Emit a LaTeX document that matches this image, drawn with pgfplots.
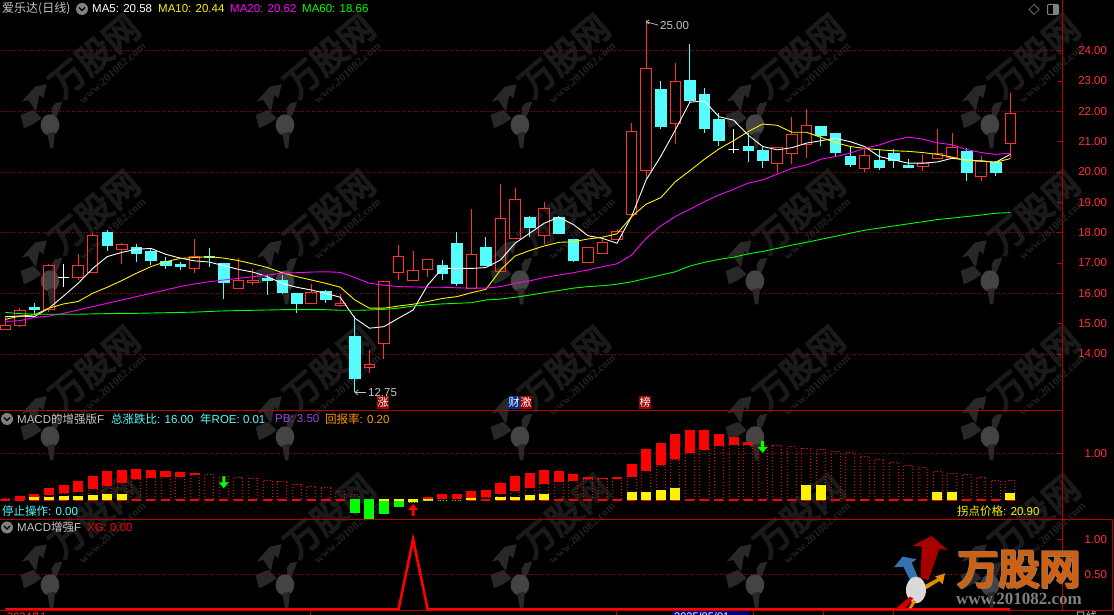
\documentclass[border=0pt]{standalone}
\usepackage{fontspec}
\usepackage{pgfplots}
\usepackage{pgfplotstable}
\pgfplotsset{compat=1.18}
\setmainfont{Liberation Sans}
\newfontfamily\cjk{Noto Sans CJK SC}
\newfontfamily\cjkb[FakeBold=5]{Noto Sans CJK SC}
\newfontfamily\wmserif{Liberation Serif}[BoldFont={Liberation Serif Bold}]
\definecolor{upred}{HTML}{FF3232}
\definecolor{dncy}{HTML}{54FCFC}
\definecolor{gridred}{HTML}{A80000}
\definecolor{axred}{HTML}{B80000}
\definecolor{lblred}{HTML}{FF3030}
\definecolor{magm}{HTML}{FF00FF}
\definecolor{grn}{HTML}{00FF00}
\definecolor{ttl}{HTML}{C4C4C4}
\definecolor{pbc}{HTML}{A040E0}
\definecolor{wmA}{HTML}{1A1A1A}
\definecolor{wmB}{HTML}{222222}
\definecolor{wmC}{HTML}{282828}
\definecolor{wmD}{HTML}{444444}
% candles: i low bottom top high
\pgfplotstableread{
i low bot top high
0 14.81 14.81 14.95 15.23
1 14.90 14.95 15.43 15.51
3 15.40 15.47 16.91 16.96
5 16.44 16.53 16.91 17.29
6 16.68 16.68 17.91 18.00
8 16.98 17.45 17.62 17.66
13 16.68 16.81 17.22 17.79
16 16.15 16.15 16.43 17.15
17 16.27 16.35 16.43 16.79
21 15.66 15.66 16.03 16.31
23 15.56 15.60 15.67 15.98
25 13.38 13.56 13.66 14.13
26 13.85 14.35 16.40 16.40
27 16.45 16.69 17.22 17.58
28 16.43 16.43 16.76 17.40
29 16.55 16.79 17.12 17.12
32 16.15 16.15 17.29 18.77
34 16.73 16.73 18.47 19.60
35 17.81 17.81 19.10 19.47
37 17.63 17.91 18.80 19.01
40 17.02 17.02 17.52 17.52
41 17.32 17.32 17.68 17.78
42 17.78 17.78 18.04 18.11
43 18.51 18.60 21.34 21.60
44 19.81 20.04 23.42 25.00
46 20.93 21.60 22.99 23.59
53 19.96 20.27 20.81 20.81
54 20.26 20.60 21.24 21.82
55 20.47 20.90 21.54 22.08
59 20.01 20.11 20.55 20.78
63 20.03 20.17 20.29 20.59
64 20.43 20.43 20.62 21.42
65 20.48 20.48 20.81 21.29
67 19.71 19.86 20.35 20.53
69 20.45 20.95 21.93 22.60
}\upc
\pgfplotstableread{
i low bot top high
2 15.29 15.48 15.55 15.67
7 17.41 17.57 18.01 18.09
9 17.03 17.31 17.53 17.63
10 16.93 17.08 17.40 17.48
11 16.80 16.94 17.05 17.19
12 16.78 16.88 16.97 17.03
14 16.88 17.20 17.23 17.48
15 15.82 16.35 16.99 16.99
18 15.96 16.42 16.51 16.59
19 16.00 16.02 16.44 16.60
20 15.36 15.66 16.00 16.00
22 15.69 15.79 16.07 16.11
24 12.75 13.19 14.59 15.25
30 16.44 16.65 16.92 17.10
31 16.25 16.32 17.66 18.01
33 16.91 16.93 17.53 17.86
36 17.87 18.17 18.51 18.55
38 17.97 17.97 18.51 18.55
39 17.04 17.08 17.79 17.79
45 21.42 21.52 22.74 23.00
47 22.34 22.35 23.03 24.22
48 21.30 21.45 22.57 22.77
49 20.87 21.03 21.75 21.93
51 20.33 20.73 20.86 21.27
52 20.14 20.40 20.73 20.84
56 20.84 21.22 21.52 21.52
57 20.54 20.66 21.29 21.29
58 20.16 20.27 20.53 20.86
60 20.07 20.14 20.38 20.75
61 20.14 20.40 20.62 20.76
62 20.14 20.17 20.21 20.42
66 19.71 19.98 20.68 20.78
68 19.88 19.98 20.33 20.37
}\dnc
\pgfplotstableread{
i low bot top high
4 16.22 16.53 16.53 16.96
50 20.64 20.74 20.74 21.41
}\dojic
% moving averages: i ma5 ma10 ma20 ma60
\pgfplotstableread{
i a b c d
0 15.23 15.14 15.07 15.37
1 15.25 15.25 15.10 15.33
2 15.23 15.29 15.20 15.31
3 15.51 15.51 15.25 15.31
4 15.91 15.65 15.34 15.31
5 16.33 15.73 15.45 15.31
6 16.82 16.00 15.56 15.32
7 17.21 16.20 15.67 15.33
8 17.35 16.42 15.78 15.34
9 17.45 16.66 15.89 15.34
10 17.48 16.88 16.00 15.35
11 17.29 17.04 16.11 15.36
12 17.16 17.15 16.22 15.37
13 17.07 17.18 16.31 15.38
14 17.03 17.21 16.38 15.40
15 16.91 17.16 16.44 15.42
16 16.79 17.08 16.49 15.43
17 16.70 16.97 16.55 15.44
18 16.55 16.85 16.60 15.45
19 16.33 16.68 16.66 15.46
20 16.20 16.55 16.68 15.46
21 16.11 16.44 16.70 15.46
22 16.00 16.33 16.71 15.46
23 15.87 16.20 16.69 15.44
24 15.18 15.78 16.52 15.44
25 14.85 15.51 16.33 15.45
26 14.90 15.51 16.27 15.47
27 15.18 15.58 16.22 15.51
28 15.45 15.64 16.21 15.58
29 16.27 15.73 16.20 15.62
30 16.82 15.83 16.20 15.65
31 16.82 15.89 16.18 15.67
32 16.82 16.02 16.17 15.69
33 16.85 16.13 16.17 15.78
34 17.10 16.77 16.22 15.81
35 17.65 17.23 16.33 15.87
36 17.98 17.41 16.41 15.94
37 18.31 17.56 16.52 16.02
38 18.51 17.68 16.60 16.09
39 18.27 17.70 16.68 16.17
40 17.90 17.79 16.77 16.22
41 17.81 17.85 16.88 16.25
42 17.65 17.96 16.97 16.30
43 18.53 18.53 17.26 16.38
44 19.74 18.94 17.81 16.49
45 20.51 19.15 18.22 16.60
46 21.38 19.68 18.53 16.71
47 22.30 20.04 18.77 16.90
48 22.34 20.42 19.02 17.02
49 21.82 20.76 19.24 17.12
50 21.71 21.03 19.43 17.19
51 21.22 21.33 19.63 17.30
52 20.84 21.58 19.74 17.38
53 20.73 21.54 19.93 17.48
54 20.80 21.31 20.12 17.59
55 20.95 21.31 20.23 17.68
56 21.03 21.14 20.42 17.78
57 21.11 20.97 20.51 17.88
58 21.00 20.84 20.62 17.98
59 20.84 20.78 20.78 18.08
60 20.51 20.73 20.89 18.15
61 20.40 20.70 21.05 18.22
62 20.29 20.68 21.15 18.29
63 20.29 20.64 21.08 18.36
64 20.33 20.58 20.96 18.43
65 20.45 20.49 20.90 18.48
66 20.40 20.37 20.74 18.53
67 20.36 20.37 20.64 18.58
68 20.32 20.32 20.58 18.64
69 20.58 20.44 20.62 18.66
}\matab
% MACD panel
\pgfplotstableread{
i a
0 .03
1 .04
2 .07
3 .11
4 .15
5 .19
6 .25
7 .32
8 .38
9 .45
10 .49
11 .51
12 .51
13 .54
14 .54
15 .51
16 .49
17 .47
18 .43
19 .39
20 .34
21 .30
22 .26
23 .19
24 .11
32 .06
33 .06
34 .14
35 .21
36 .27
37 .36
38 .40
39 .42
40 .45
41 .46
42 .47
43 .51
44 .63
45 .75
46 .88
47 1.01
48 1.09
49 1.16
50 1.20
51 1.20
52 1.18
53 1.16
54 1.14
55 1.11
56 1.09
57 1.05
58 1.01
59 .94
60 .88
61 .81
62 .75
63 .69
64 .62
65 .58
66 .54
67 .49
68 .43
69 .41
}\outl
\pgfplotstableread{
i lo hi
1 .04 .08
2 .07 .11
3 .11 .24
4 .15 .30
5 .19 .39
6 .25 .51
7 .32 .60
8 .38 .64
9 .45 .66
10 .49 .64
11 .51 .60
12 .51 .58
13 .54 .56
29 .02 .06
30 .03 .11
31 .03 .11
32 .06 .19
33 .08 .21
34 .14 .36
35 .21 .51
36 .27 .56
37 .36 .64
38 .40 .62
39 .42 .54
40 .45 .49
41 .46 .47
42 .47 .49
43 .51 .75
44 .63 1.09
45 .75 1.22
46 .88 1.41
47 1.01 1.50
48 1.09 1.48
49 1.16 1.41
50 1.20 1.33
51 1.20 1.24
}\redb
\pgfplotstableread{
i lo hi
2 0 .05
3 0 .05
4 0 .07
5 0 .07
6 0 .09
7 0 .11
8 0 .11
26 -.01 .02
27 -.01 .02
28 -.03 .02
29 -.01 .02
32 0 .04
34 0 .06
35 0 .06
36 0 .09
37 0 .11
43 0 .15
44 0 .17
45 0 .21
46 0 .24
55 0 .30
56 0 .30
64 0 .17
65 0 .17
69 0 .13
}\yelb
\pgfplotstableread{
i lo hi
24 -.26 0
25 -.39 0
26 -.28 -.04
27 -.13 -.04
}\grnb
\newcommand{\candles}[2]{%
 \pgfplotstablegetrowsof{#1}\pgfmathtruncatemacro\lastrow{\pgfplotsretval-1}%
 \pgfplotsinvokeforeach{0,...,\lastrow}{%
  \pgfplotstablegetelem{##1}{i}\of{#1}\let\vi\pgfplotsretval
  \pgfplotstablegetelem{##1}{low}\of{#1}\let\vlow\pgfplotsretval
  \pgfplotstablegetelem{##1}{bot}\of{#1}\let\vbot\pgfplotsretval
  \pgfplotstablegetelem{##1}{top}\of{#1}\let\vtop\pgfplotsretval
  \pgfplotstablegetelem{##1}{high}\of{#1}\let\vhigh\pgfplotsretval
  \pgfmathsetmacro\xl{\vi-0.36}\pgfmathsetmacro\xr{\vi+0.36}%
  \edef\tmp{\noexpand\addplot[#2 wick] coordinates {(\vi,\vlow)(\vi,\vbot)};
   \noexpand\addplot[#2 wick] coordinates {(\vi,\vtop)(\vi,\vhigh)};
   \noexpand\addplot[#2 body] coordinates {(\xl,\vbot)(\xr,\vbot)(\xr,\vtop)(\xl,\vtop)} --cycle;}\tmp
 }}
\newcommand{\blocks}[2]{%
 \pgfplotstablegetrowsof{#1}\pgfmathtruncatemacro\lastrow{\pgfplotsretval-1}%
 \pgfplotsinvokeforeach{0,...,\lastrow}{%
  \pgfplotstablegetelem{##1}{i}\of{#1}\let\vi\pgfplotsretval
  \pgfplotstablegetelem{##1}{lo}\of{#1}\let\vlo\pgfplotsretval
  \pgfplotstablegetelem{##1}{hi}\of{#1}\let\vhi\pgfplotsretval
  \pgfmathsetmacro\xl{\vi-0.31}\pgfmathsetmacro\xr{\vi+0.31}%
  \edef\tmp{\noexpand\addplot[#2] coordinates {(\xl,\vlo)(\xr,\vlo)(\xr,\vhi)(\xl,\vhi)} --cycle;}\tmp
 }}
\newcommand{\outlines}[1]{%
 \pgfplotstablegetrowsof{#1}\pgfmathtruncatemacro\lastrow{\pgfplotsretval-1}%
 \pgfplotsinvokeforeach{0,...,\lastrow}{%
  \pgfplotstablegetelem{##1}{i}\of{#1}\let\vi\pgfplotsretval
  \pgfplotstablegetelem{##1}{a}\of{#1}\let\va\pgfplotsretval
  \pgfmathsetmacro\xl{\vi-0.31}\pgfmathsetmacro\xr{\vi+0.31}%
  \edef\tmp{\noexpand\addplot[dotbar] coordinates {(\xl,0)(\xl,\va)(\xr,\va)(\xr,0)};
   \noexpand\addplot[basebar] coordinates {(\xl,0)(\xr,0)};}\tmp
 }}
\def\arrowpts#1{%
 \pgfpathmoveto{\pgfqpoint{0pt}{0pt}}%
 \pgfpathlineto{\pgfqpoint{-5pt}{#1 6pt}}%
 \pgfpathlineto{\pgfqpoint{-1.5pt}{#1 6pt}}%
 \pgfpathlineto{\pgfqpoint{-1.5pt}{#1 12pt}}%
 \pgfpathlineto{\pgfqpoint{1.5pt}{#1 12pt}}%
 \pgfpathlineto{\pgfqpoint{1.5pt}{#1 6pt}}%
 \pgfpathlineto{\pgfqpoint{5pt}{#1 6pt}}%
 \pgfpathclose\pgfusepathqfill}
\pgfdeclareplotmark{dnarrow}{\arrowpts{}}
\pgfdeclareplotmark{uparrow}{\arrowpts{-}}
\pgfplotsset{
 up wick/.style={upred,line width=1pt},
 up body/.style={upred,line width=1pt},
 dn wick/.style={dncy,line width=1pt},
 dn body/.style={dncy,fill=dncy,line width=.5pt},
 doji wick/.style={white,line width=1pt},
 doji body/.style={white,line width=1pt},
 dotbar/.style={red,line width=.8pt,dash pattern=on 1pt off 2pt},
 basebar/.style={red,line width=1.1pt},
 redfill/.style={red,fill=red,line width=0pt},
 yelfill/.style={yellow,fill=yellow,line width=0pt},
 grnfill/.style={grn,fill=grn,line width=0pt},
 panel/.style={scale only axis,width=1062pt,xmin=-0.364,xmax=72.55,xtick=\empty,
  axis line style={draw=none},ytick pos=right,clip=true,
  major tick length=5pt,tick style={axred,line width=.9pt},
  grid style={gridred,line width=.8pt,dash pattern=on 1pt off 2pt},ymajorgrids,
  yticklabel style={font=\fontsize{11.5}{12}\selectfont,text=lblred,anchor=east,xshift=48.6pt,
   /pgf/number format/.cd,fixed,fixed zerofill,precision=2,assume math mode=true}},
}
\tikzset{wmark/.pic={
  \node[rotate=40,text=wmA,font=\cjkb\fontsize{35}{35}\selectfont] at (283,168) {万股网};
  \node[rotate=42,text=wmB,font=\wmserif\bfseries\fontsize{11.5}{12}\selectfont] at (337,219) {www.201082.com};
  \fill[wmC] (65,305)--(105,260)--(140,253)--(130,295)--(118,285)--(108,335)--(85,300)--cycle;
  \fill[wmC] (62,345)--(100,330)--(125,355)--(100,372)--(72,385)--cycle;
  \fill[wmC] (155,325)--(165,310)--(187,305)--(180,325)--(172,345)--(158,365)--cycle;
  \fill[wmD] (150,375) ellipse (28 and 32);
  \fill[wmC] (142,400)--(165,395)--(160,445)--(150,445)--cycle;
 }}
\begin{document}
\begin{tikzpicture}
\useasboundingbox (0,0) rectangle (1114pt,615pt);
\fill[black] (0,0) rectangle (1114pt,615pt);
% watermark
\begin{scope}[x=0.3333pt,y=-0.3333pt,yshift=615pt]
 \begin{scope}
 \clip (0,0) rectangle (3342,1845);
 \foreach \ox in {0,705,1410,2115,2820}{
  \foreach \oy in {0,468,936,1380}{
   \pic at (\ox,\oy) {wmark};
 }}
 \end{scope}
\end{scope}
% main panel
\begin{axis}[panel,at={(0pt,204.3pt)},anchor=south west,height=410.7pt,ymin=12.13,ymax=25.67,
 ytick={14,16,18,20,22,24},extra y ticks={15,17,19,21,23},extra y tick style={grid=none}]
 \candles{\upc}{up}
 \candles{\dnc}{dn}
 \candles{\dojic}{doji}
 \addplot[white,line width=.9pt] table[x=i,y=a] {\matab};
 \addplot[yellow,line width=.9pt] table[x=i,y=b] {\matab};
 \addplot[magm,line width=.9pt] table[x=i,y=c] {\matab};
 \addplot[grn,line width=.9pt] table[x=i,y=d] {\matab};
\end{axis}
% MACD panel
\begin{axis}[panel,at={(0pt,95.7pt)},anchor=south west,height=108.6pt,ymin=-0.414,ymax=1.914,
 ytick={1}]
 \outlines{\outl}
 \blocks{\redb}{redfill}
 \blocks{\yelb}{yelfill}
 \blocks{\grnb}{grnfill}
 \addplot[grn,line width=.9pt,dash pattern=on 1pt off 1.6pt] coordinates {(27.7,-.05)(28.3,-.05)};
 \addplot[grn,line width=.9pt,dash pattern=on 1pt off 1.6pt] coordinates {(28.7,-.02)(29.3,-.02)};
 \addplot[grn,line width=.9pt,dash pattern=on 1pt off 1.6pt] coordinates {(29.7,0)(30.3,0)};
 \addplot[grn,line width=.9pt,dash pattern=on 1pt off 1.6pt] coordinates {(30.7,0)(31.3,0)};
 \addplot[only marks,mark=dnarrow,color=grn] coordinates {(15,.25)(52,1.01)};
 \addplot[only marks,mark=uparrow,color=red] coordinates {(28,-.086)};
\end{axis}
% XG panel
\begin{axis}[panel,at={(0pt,4.5pt)},anchor=south west,height=91.2pt,ymin=-0.017,ymax=1.286,
 ytick={1},ymajorgrids=false,extra y ticks={0.5},extra y tick style={grid=major}]
 \addplot[red,line width=2.6pt,line join=miter] coordinates {(0,0)(27,0)(28,1)(29,0)(69,0)};
\end{axis}
% overlay in pixel coordinates
\begin{scope}[x=1pt,y=-1pt,yshift=615pt]
 \draw[axred,line width=1pt] (1062.3,0)--(1062.3,611);
 \draw[axred,line width=1pt] (0,410.7)--(1062,410.7);
 \draw[axred,line width=1pt] (0,519.3)--(1113,519.3);
 \draw[axred,line width=1pt] (1112.5,519.3)--(1112.5,610.5);
 \draw[axred,line width=.8pt] (0,610.8)--(1113,610.8);
 \foreach \tx in {35,310,616,753,823,893}{\draw[axred,line width=.8pt] (\tx,610.5)--(\tx,615);}
 \fill[blue!50!black] (672,611.3)rectangle(749,615);
 \node[anchor=north west,inner sep=0,text=white,font=\fontsize{11}{12}\selectfont] at (674,612) {2025/05/01};
 \node[anchor=north west,inner sep=0,text=ttl,font=\cjk\fontsize{11}{12}\selectfont] at (1075,611.5) {日线};
 \node[anchor=north west,inner sep=0,text=upred,font=\fontsize{11}{12}\selectfont] at (7,612.5) {2024/11};
 % titles
 \def\lab#1#2#3#4{\node[anchor=west,inner sep=0,text=#3,font=\fontsize{11.5}{12}\selectfont] at (#1,#2) {#4};}
 \lab{2}{9}{ttl}{\cjk\fontsize{12}{12}\selectfont 爱乐达(日线)}
 \lab{92}{9}{white}{MA5: 20.58}
 \lab{158}{9}{yellow}{MA10: 20.44}
 \lab{230}{9}{magm}{MA20: 20.62}
 \lab{302}{9}{grn}{MA60: 18.66}
 \foreach \cx/\cy in {82/9,7/419,7/527.5}{
  \fill[gray] (\cx,\cy) circle (6);
  \draw[black,line width=1.1pt] (\cx-3,\cy-1.5)--(\cx,\cy+1.5)--(\cx+3,\cy-1.5);
 }
 \lab{17}{419}{ttl}{MACD{\cjk 的增强版}F}
 \lab{111}{419}{dncy}{{\cjk 总涨跌比}: 16.00}
 \lab{200}{419}{dncy}{{\cjk 年}ROE: 0.01}
 \lab{275}{419}{pbc}{PB: 3.50}
 \lab{325}{419}{orange!80!yellow}{{\cjk 回报率}: 0.20}
 \lab{2}{511.5}{dncy}{{\cjk 停止操作}: 0.00}
 \lab{957}{511.5}{yellow}{{\cjk 拐点价格}: 20.90}
 \lab{17}{527.5}{ttl}{MACD{\cjk 增强}F}
 \lab{87}{527.5}{red}{XG: 0.00}
 % annotations
 \draw[ttl,line width=.7pt] (646.5,22)--(658,25);
 \draw[ttl,line width=.7pt] (649,20)--(646.5,22)--(649,24);
 \lab{660}{26}{ttl}{25.00}
 \draw[ttl,line width=.7pt] (355,392.5)--(366,392.5);
 \draw[ttl,line width=.7pt] (358,390)--(355,392.5)--(358,395);
 \lab{368}{393}{ttl}{12.75}
 % tags
 \foreach \tx/\tc/\tt in {383/red!60!black/涨,514/blue!50!teal!70!black/财,526/red!60!black/激,645/red!60!black/榜}{
  \fill[\tc] (\tx-6,396)rectangle(\tx+6,409);
  \node[text=white,inner sep=0,font=\cjk\fontsize{11}{12}\selectfont] at (\tx,402.3) {\tt};
 }
 % top right icons
 \draw[gray,line width=.7pt] (1034,4.5)--(1039,9.5)--(1034,14.5)--(1029,9.5)--cycle;
 \draw[gray,line width=1pt,rounded corners=1pt] (1047.5,4.5)rectangle(1058.5,14.5);
 \fill[gray] (1053,5)rectangle(1058,14);
\end{scope}
% logo
\begin{scope}[x=0.3333pt,y=-0.3333pt,shift={(880pt,90pt)}]
 \fill[red!65!black] (155,33)--(203,75)--(178,72)--(145,165)--(122,160)--(125,65)--(97,62)--cycle;
 \fill[cyan!60!blue!80!black] (68,95)--(110,103)--(95,113)--(115,160)--(90,165)--(70,125)--(42,127)--cycle;
 \fill[orange!80!yellow!90!black] (165,155)--(195,145)--(188,178)--(178,168)--(140,192)--(135,180)--(172,160)--cycle;
 \fill[gray!30] (108,195) ellipse (30 and 40);
 \fill[red!80!black] (45,252)--(90,215)--(100,220)--(75,252)--cycle;
 \fill[orange] (85,250)--(100,225)--(108,230)--(95,250)--cycle;
 \node[text=gray,font=\cjkb\fontsize{41}{41}\selectfont] at (415,131) {万股网};
 \node[text=gray,font=\cjkb\fontsize{41}{41}\selectfont] at (419,135) {万股网};
 \node[text={rgb,255:red,208;green,96;blue,16},font=\cjkb\fontsize{41}{41}\selectfont] at (417,133) {万股网};
 \node[text=gray,font=\wmserif\bfseries\fontsize{17}{17}\selectfont] at (417,221) {www.201082.com};
\end{scope}
\end{tikzpicture}
\end{document}
